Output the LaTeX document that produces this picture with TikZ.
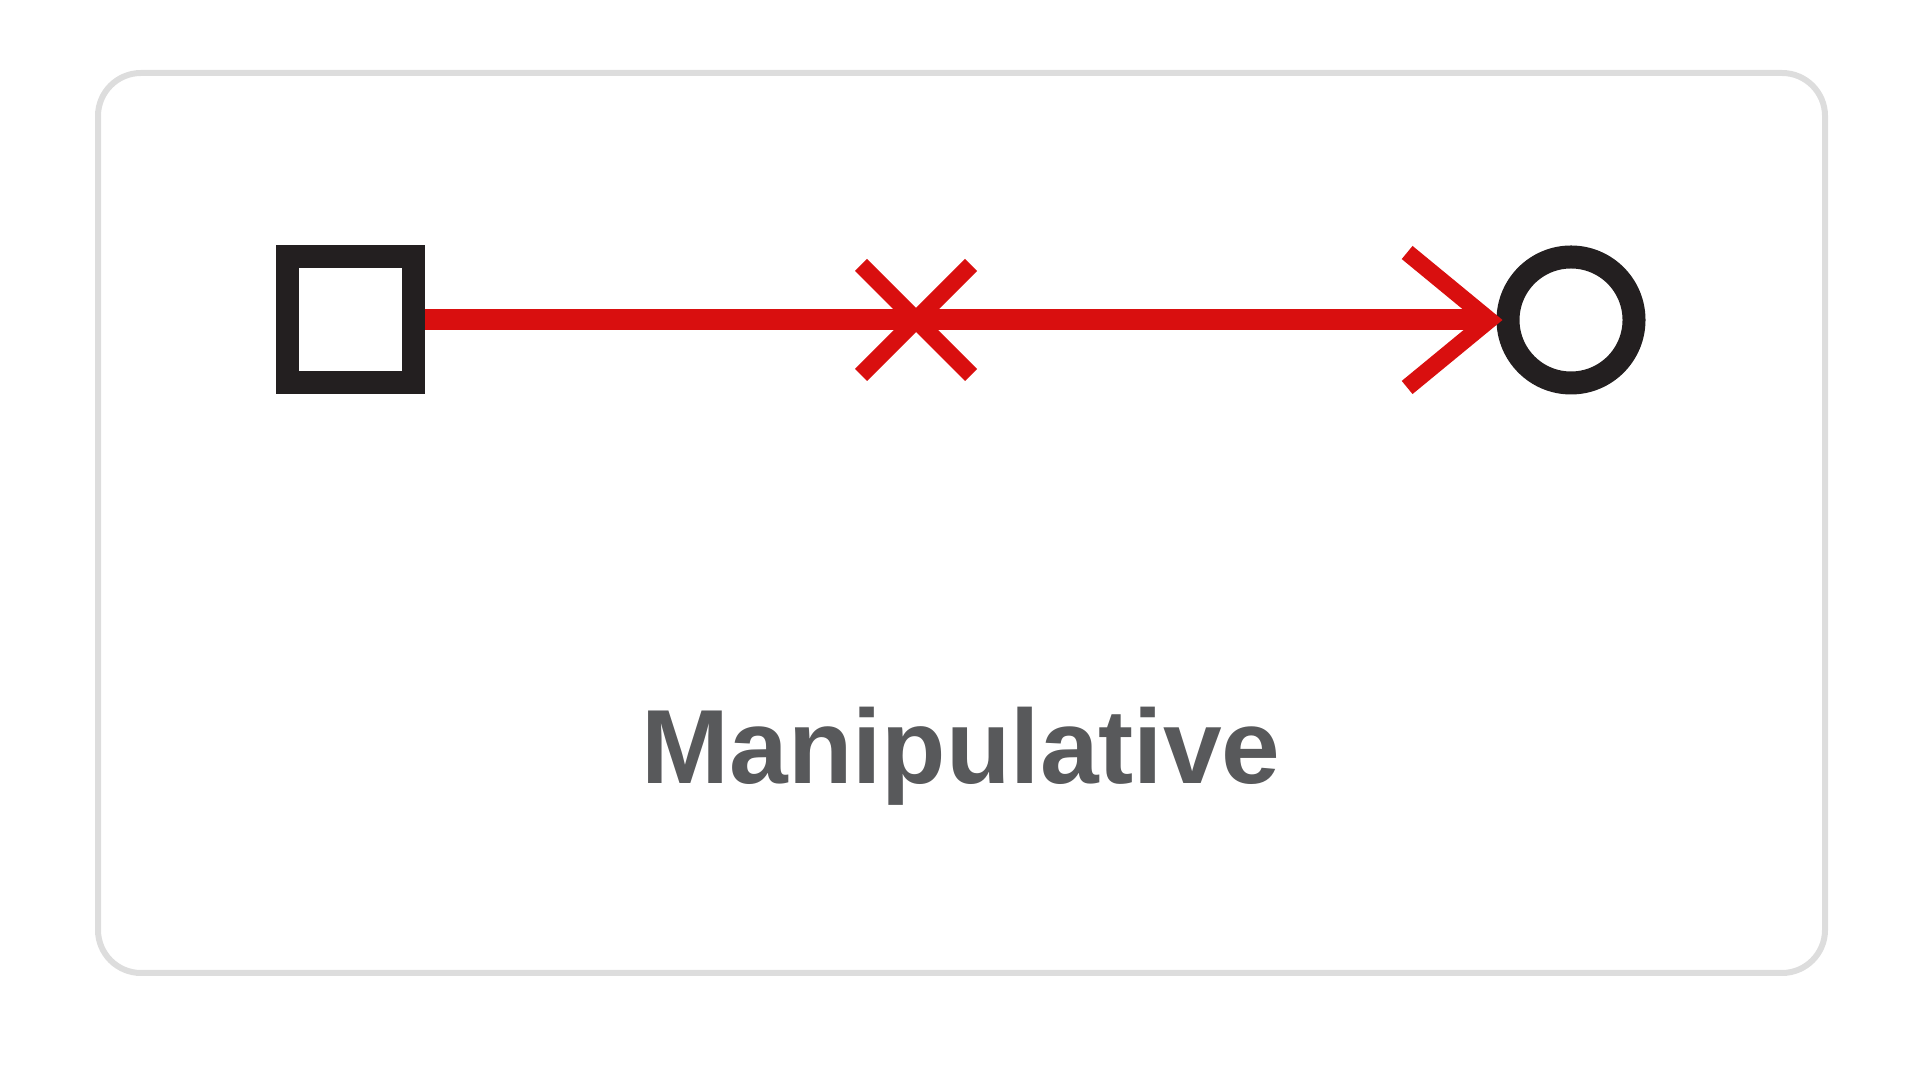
\documentclass[tikz,border=0pt]{standalone}
\usepackage{fontspec}
\setmainfont{Liberation Sans}
\usetikzlibrary{arrows.meta}
\definecolor{linkred}{HTML}{D90F0F}
\definecolor{markblack}{HTML}{231F20}
\definecolor{framegray}{HTML}{DDDDDD}
\definecolor{labelgray}{HTML}{58595B}

\begin{document}
\begin{tikzpicture}[endpoint/.style={draw=markblack,line width=2.3mm,minimum size=1.26cm,inner sep=0pt},
    link/.style={draw=linkred,line width=2.1mm},
    crossmark/.style={draw=linkred,line width=1.7mm}]
    \useasboundingbox (0,0) rectangle (19.2,10.8);
    \draw [framegray,line width=0.6mm,rounded corners=0.43cm] (0.98,1.07) rectangle (18.25,10.07);

    \node (source)[endpoint,shape=rectangle] at (3.50,7.60) {};
    \node (target)[endpoint,shape=circle] at (15.71,7.60) {};
    \coordinate (cut) at (9.16,7.60);
    \node (label)[anchor=base,text=labelgray,font=\fontsize{30}{36}\selectfont\bfseries] at (9.61,2.96) {Manipulative};

    \path [link,shorten >=-0.6mm,-{Straight Barb[length=8.2mm,width=13.5mm,line width=1.7mm]}] (source) edge (target);
    \path [crossmark] ([shift={(-0.55,0.55)}]cut) edge ([shift={(0.55,-0.55)}]cut);
    \path [crossmark] ([shift={(-0.55,-0.55)}]cut) edge ([shift={(0.55,0.55)}]cut);
\end{tikzpicture}
\end{document}
